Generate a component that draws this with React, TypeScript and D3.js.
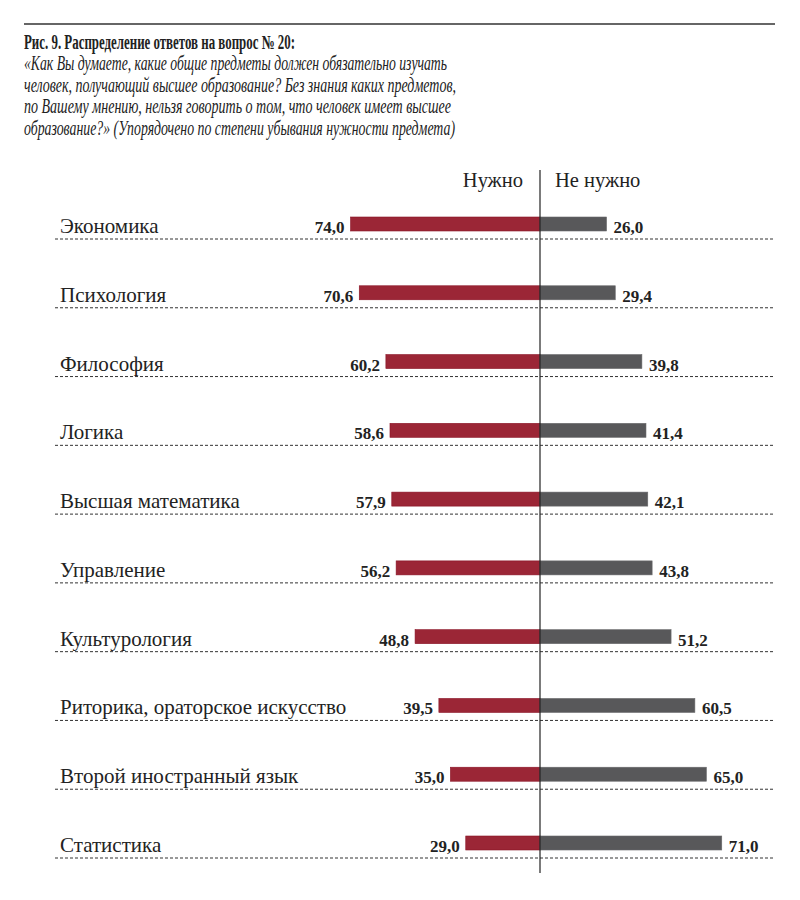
import React from "react";
import * as d3 from "d3";

const categories = [
  "Экономика",
  "Психология",
  "Философия",
  "Логика",
  "Высшая математика",
  "Управление",
  "Культурология",
  "Риторика, ораторское искусство",
  "Второй иностранный язык",
  "Статистика",
];
const needed = [74.0, 70.6, 60.2, 58.6, 57.9, 56.2, 48.8, 39.5, 35.0, 29.0];
const notNeeded = [26.0, 29.4, 39.8, 41.4, 42.1, 43.8, 51.2, 60.5, 65.0, 71.0];
const seriesNames = ["Нужно", "Не нужно"];
const titleLine = "Рис. 9. Распределение ответов на вопрос № 20:";
const subtitleLines = [
  "«Как Вы думаете, какие общие предметы должен обязательно изучать",
  "человек, получающий высшее образование? Без знания каких предметов,",
  "по Вашему мнению, нельзя говорить о том, что человек имеет высшее",
  "образование?» (Упорядочено по степени убывания нужности предмета)",
];
const subtitleWidths = [423, 432, 427, 431];

const fmt = (v: number) => v.toFixed(1).replace(".", ",");
const FF = '"Liberation Serif"';

function T(props: any) {
  const { children, style, ...rest } = props;
  return (
    <text fontFamily="Liberation Serif" style={{ fontFamily: FF, ...(style || {}) }} {...rest}>
      {children}
    </text>
  );
}

export default function App() {
  const W = 800;
  const H = 900;
  const cx = 540;
  const x = d3.scaleLinear().domain([0, 100]).range([0, 256]);
  const rowLine = d3.scaleLinear().domain([0, 9]).range([239, 858]);
  const red = "#9b2636";
  const gray = "#58585a";

  return (
    <svg width={W} height={H} style={{ position: "absolute", left: 0, top: 0, background: "#fff" }}>
      <line x1={24} x2={775} y1={24} y2={24} stroke="#333" strokeWidth={1.5} />
      <T
        x={24}
        y={48.5}
        fontSize={20}
        fontWeight="bold"
        fill="#222"
        textLength={271}
        lengthAdjust="spacingAndGlyphs"
      >
        {titleLine}
      </T>
      {subtitleLines.map((t, i) => (
        <T
          key={i}
          x={24}
          y={70 + i * 21.7}
          fontSize={20}
          fontStyle="italic"
          fill="#222"
          textLength={subtitleWidths[i]}
          lengthAdjust="spacingAndGlyphs"
        >
          {t}
        </T>
      ))}

      <T x={cx - 17} y={187} fontSize={20.5} textAnchor="end" fill="#222">
        {seriesNames[0]}
      </T>
      <T x={cx + 15} y={187} fontSize={20.5} textAnchor="start" fill="#222">
        {seriesNames[1]}
      </T>

      {categories.map((c, i) => {
        const ly = rowLine(i);
        const barY = ly - 22;
        const barH = 14;
        const wl = x(needed[i]);
        const wr = x(notNeeded[i]);
        return (
          <g key={c}>
            <line x1={55} x2={775} y1={ly} y2={ly} stroke="#333" strokeWidth={1} strokeDasharray="3,2" />
            <T x={60} y={ly - 6} fontSize={21} fill="#222">
              {c}
            </T>
            <rect x={cx - wl} y={barY} width={wl} height={barH} fill={red} stroke="#8a1426" strokeWidth={0.6} />
            <rect x={cx} y={barY} width={wr} height={barH} fill={gray} stroke="#6a6a6c" strokeWidth={0.6} />
            <T x={cx - wl - 6} y={ly - 6} fontSize={17} fontWeight="bold" textAnchor="end" fill="#222">
              {fmt(needed[i])}
            </T>
            <T x={cx + wr + 7} y={ly - 6} fontSize={17} fontWeight="bold" textAnchor="start" fill="#222">
              {fmt(notNeeded[i])}
            </T>
          </g>
        );
      })}

      <line x1={cx} x2={cx} y1={170} y2={873} stroke="#222" strokeWidth={1.2} />
    </svg>
  );
}
